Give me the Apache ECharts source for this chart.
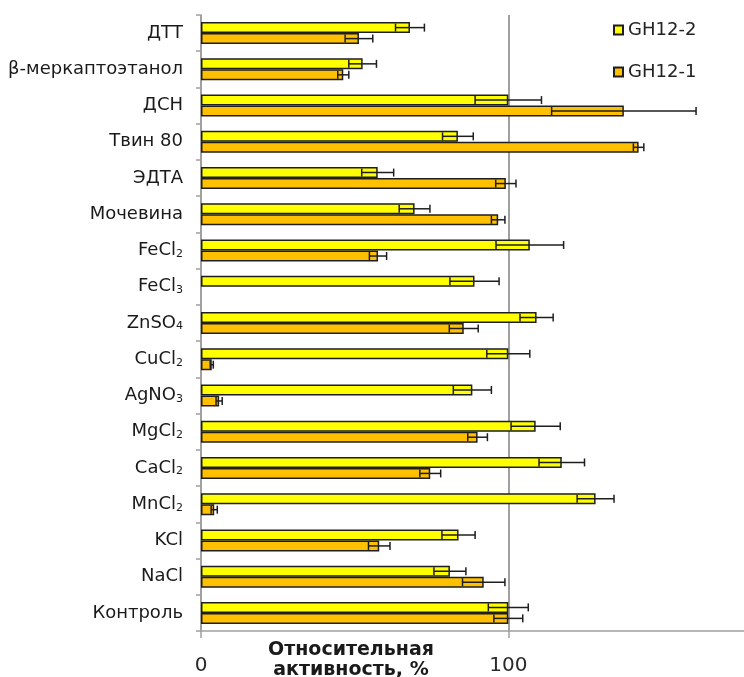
<!DOCTYPE html>
<html>
<head>
<meta charset="utf-8">
<script src="https://cdn.jsdelivr.net/npm/echarts@6/dist/echarts.min.js"></script>
<style>
  html, body { margin: 0; padding: 0; background: #fff; }
  #chart { width: 744px; height: 677px; }
</style>
</head>
<body>
<div id="chart"></div>
<script>
// Conditions tested, top to bottom
const categories = ['ДТТ', 'β-меркаптоэтанол', 'ДСН', 'Твин 80', 'ЭДТА', 'Мочевина',
  'FeCl2', 'FeCl3', 'ZnSO4', 'CuCl2', 'AgNO3', 'MgCl2', 'CaCl2', 'MnCl2', 'KCl', 'NaCl', 'Контроль'];

// Relative activity, %, and standard deviation for each enzyme
const gh12_2 = [68, 52.6, 100, 83.6, 57.5, 69.5, 107, 89, 109.2, 100, 88.3, 108.9, 117.4, 128.4, 83.8, 81, 100];
const gh12_2_err = [4.7, 4.5, 10.8, 5, 5.2, 5, 11, 8, 5.4, 7, 6.2, 8, 7.4, 6, 5.4, 5.2, 6.5];
const gh12_1 = [51.4, 46.3, 137.6, 142.4, 99.2, 96.7, 57.6, -0.8, 85.5, 3.5, 5.9, 90, 74.6, 4.3, 58, 92, 100];
const gh12_1_err = [4.5, 1.8, 23.5, 1.7, 3.3, 2.2, 2.8, 0, 4.7, 0.5, 1, 3.2, 3.4, 1, 3.5, 6.9, 4.7];

const xTicks = [0, 100];
const X_MAX = 176.7;

const FONT = 'DejaVu Sans';
const BAR_W = 11;

function errData(values, errs) {
  return values.map((v, i) => [v, i, errs[i]]);
}

// Error bar: line from v-err to v+err with caps at both ends
function errorRenderer(offset) {
  return function (params, api) {
    const v = api.value(0), c = api.value(1), e = api.value(2);
    if (!e) return null;
    const lo = api.coord([v - e, c]);
    const hi = api.coord([v + e, c]);
    const y = lo[1] + offset;
    const h = 4;
    const style = { stroke: '#1e1e1e', lineWidth: 1.5 };
    return {
      type: 'group',
      children: [
        { type: 'line', shape: { x1: lo[0], y1: y, x2: hi[0], y2: y }, style },
        { type: 'line', shape: { x1: lo[0], y1: y - h, x2: lo[0], y2: y + h }, style },
        { type: 'line', shape: { x1: hi[0], y1: y - h, x2: hi[0], y2: y + h }, style }
      ]
    };
  };
}

const chart = echarts.init(document.getElementById('chart'), null, { renderer: 'canvas' });

chart.setOption({
  animation: false,
  backgroundColor: '#ffffff',
  textStyle: { fontFamily: FONT },
  grid: { left: 201, right: 0, top: 15, bottom: 46, containLabel: false, outerBoundsMode: 'none' },
  legend: {
    orient: 'vertical',
    left: 608,
    top: 16,
    itemGap: 24,
    itemWidth: 9,
    itemHeight: 9,
    icon: 'rect',
    data: ['GH12-2', 'GH12-1'],
    textStyle: { fontFamily: FONT, fontSize: 18, color: '#222' }
  },
  xAxis: {
    type: 'value',
    min: 0,
    max: X_MAX,
    interval: 100,
    name: 'Относительная\nактивность, %',
    nameLocation: 'middle',
    nameGap: 9,
    nameMoveOverlap: false,
    nameTextStyle: {
      fontFamily: FONT, fontSize: 19, fontWeight: 'bold', color: '#1a1a1a',
      lineHeight: 20, verticalAlign: 'top', padding: [0, 243, 0, 0]
    },
    axisLine: { show: true, lineStyle: { color: '#a0a0a0', width: 1.5 } },
    axisTick: { show: true, length: 7, lineStyle: { color: '#a0a0a0', width: 1.5 } },
    axisLabel: {
      fontFamily: FONT, fontSize: 20, color: '#2a2a2a', margin: 25,
      showMaxLabel: false,
      formatter: v => (xTicks.indexOf(v) >= 0 ? String(v) : '')
    },
    splitLine: { show: true, showMaxLine: false, lineStyle: { color: '#a0a0a0', width: 2 } }
  },
  yAxis: {
    type: 'category',
    data: categories,
    inverse: true,
    axisLine: { show: true, lineStyle: { color: '#a0a0a0', width: 1.5 } },
    axisTick: { show: true, length: 5, lineStyle: { color: '#a0a0a0', width: 1.5 } },
    axisLabel: {
      fontFamily: FONT, fontSize: 18, color: '#1a1a1a', margin: 18,
      formatter: v => v.replace(/^([A-Za-z]+)(\d)$/, '$1{s|$2}'),
      rich: {
        s: { fontFamily: FONT, fontSize: 11, color: '#1a1a1a', verticalAlign: 'bottom', lineHeight: 11, padding: [6, 0, 0, 0] }
      }
    }
  },
  series: [
    {
      name: 'GH12-2', type: 'bar', data: gh12_2, barWidth: BAR_W, barGap: '0%',
      itemStyle: { color: '#ffff00', borderColor: '#1e1e1e', borderWidth: 1.5 }, z: 2
    },
    {
      name: 'GH12-1', type: 'bar', data: gh12_1, barWidth: BAR_W, barGap: '0%',
      itemStyle: { color: '#ffc000', borderColor: '#1e1e1e', borderWidth: 1.5 }, z: 2
    },
    {
      type: 'custom', name: 'GH12-2 err', data: errData(gh12_2, gh12_2_err),
      encode: { x: 0, y: 1 }, renderItem: errorRenderer(-BAR_W / 2), z: 5, silent: true
    },
    {
      type: 'custom', name: 'GH12-1 err', data: errData(gh12_1, gh12_1_err),
      encode: { x: 0, y: 1 }, renderItem: errorRenderer(BAR_W / 2), z: 5, silent: true
    }
  ]
});
</script>
</body>
</html>
